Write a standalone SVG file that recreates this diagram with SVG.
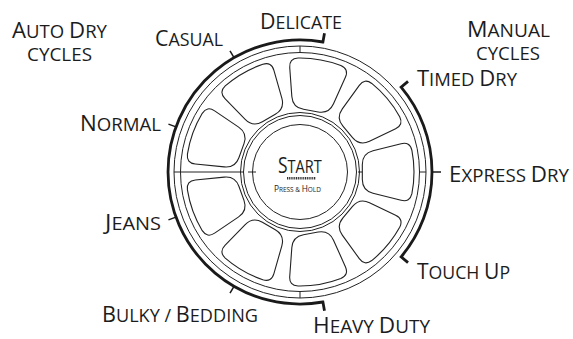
<svg xmlns="http://www.w3.org/2000/svg" width="573" height="339" viewBox="0 0 573 339">
<style>
.lbl{font-family:"Open Sans","Liberation Sans",sans-serif;fill:#1c1c1c}
.B{font-size:21.5px}
.s{font-size:18px}
.thin{fill:none;stroke:#222;stroke-width:1}
.pad{fill:#fff;stroke:#222;stroke-width:1.1}
.br{fill:none;stroke:#1a1a1a;stroke-width:2.8}
.tk{fill:none;stroke:#1a1a1a;stroke-width:1.5}
</style>
<defs>
<path id="padshape" d="M101.12,-28.26 Q109.85,-30.47 111.91,-21.71 A114 114 0 0 1 111.91,21.71 Q109.85,30.47 101.12,28.26 L72.99,21.16 Q62.32,18.46 62.32,7.46 L62.32,-7.46 Q62.32,-18.46 72.99,-21.16 Z"/>
</defs>
<rect width="573" height="339" fill="#fff"/>

<g id="dial">
<circle class="thin" cx="300" cy="172" r="126"/>
<circle class="thin" cx="300" cy="172" r="119.5"/>
<line class="thin" x1="300" y1="46" x2="300" y2="52.5"/>
<line class="thin" x1="300" y1="291.5" x2="300" y2="298"/>
<line class="thin" x1="419.5" y1="172" x2="426" y2="172"/>
<line class="thin" x1="174" y1="172" x2="243.5" y2="172"/>
<circle class="thin" cx="300" cy="172" r="59.5"/>
<circle class="thin" cx="300" cy="172" r="56.5"/>
<line class="thin" x1="248" y1="172" x2="256" y2="172"/>
<line class="thin" x1="358" y1="172" x2="367" y2="172"/>
</g>

<g id="pad-express-dry"><use href="#padshape" class="pad" transform="translate(300 172) rotate(0)"/></g>
<g id="pad-touch-up"><use href="#padshape" class="pad" transform="translate(300 172) rotate(40)"/></g>
<g id="pad-heavy-duty"><use href="#padshape" class="pad" transform="translate(300 172) rotate(80)"/></g>
<g id="pad-bulky-bedding"><use href="#padshape" class="pad" transform="translate(300 172) rotate(120)"/></g>
<g id="pad-jeans"><use href="#padshape" class="pad" transform="translate(300 172) rotate(160)"/></g>
<g id="pad-normal"><use href="#padshape" class="pad" transform="translate(300 172) rotate(200)"/></g>
<g id="pad-casual"><use href="#padshape" class="pad" transform="translate(300 172) rotate(240)"/></g>
<g id="pad-delicate"><use href="#padshape" class="pad" transform="translate(300 172) rotate(280)"/></g>
<g id="pad-timed-dry"><use href="#padshape" class="pad" transform="translate(300 172) rotate(320)"/></g>

<g id="start-button">
<circle class="thin" cx="300" cy="172" r="47.5"/>
<text class="lbl" transform="translate(278 172.7) scale(0.83 1)"><tspan font-size="21">S</tspan><tspan font-size="17.5">TART</tspan></text>
<line x1="287" y1="178.2" x2="316" y2="178.2" stroke="#333" stroke-width="2.4" stroke-dasharray="1.1 0.7"/>
<text class="lbl" transform="translate(274 191.7) scale(0.875 1)"><tspan font-size="9.5">P</tspan><tspan font-size="7.4">RESS &amp; </tspan><tspan font-size="9.5">H</tspan><tspan font-size="7.4">OLD</tspan></text>
</g>

<g id="connectors">
<path class="br" d="M324.48,33.14 L322.92,42 A132 132 0 1 0 322.92,302 L324.48,310.86"/>
<path class="br" d="M408.01,81.37 L401.12,87.15 A132 132 0 0 1 401.12,256.85 L408.01,262.63"/>
<line class="tk" x1="432" y1="172" x2="441" y2="172"/>
<line class="tk" x1="234" y1="286.32" x2="230" y2="293.24"/>
<line class="tk" x1="175.96" y1="217.15" x2="168.44" y2="219.88"/>
<line class="tk" x1="175.96" y1="126.85" x2="168.44" y2="124.12"/>
<line class="tk" x1="234" y1="57.68" x2="230" y2="50.76"/>
</g>

<g id="label-auto-dry"><text class="lbl" x="12" y="37.5" textLength="95" lengthAdjust="spacingAndGlyphs"><tspan class="B">A</tspan><tspan class="s">UTO </tspan><tspan class="B">D</tspan><tspan class="s">RY</tspan></text>
<text class="lbl s" x="27" y="60.5" textLength="65" lengthAdjust="spacingAndGlyphs">CYCLES</text></g>
<g id="label-manual"><text class="lbl" x="467" y="37" textLength="83" lengthAdjust="spacingAndGlyphs"><tspan class="B">M</tspan><tspan class="s">ANUAL</tspan></text>
<text class="lbl s" x="476" y="59.5" textLength="64" lengthAdjust="spacingAndGlyphs">CYCLES</text></g>
<g id="label-casual"><text class="lbl" x="155" y="46" textLength="68" lengthAdjust="spacingAndGlyphs"><tspan class="B">C</tspan><tspan class="s">ASUAL</tspan></text></g>
<g id="label-delicate"><text class="lbl" x="260" y="29" textLength="82" lengthAdjust="spacingAndGlyphs"><tspan class="B">D</tspan><tspan class="s">ELICATE</tspan></text></g>
<g id="label-timed-dry"><text class="lbl" x="417" y="86" textLength="100" lengthAdjust="spacingAndGlyphs"><tspan class="B">T</tspan><tspan class="s">IMED </tspan><tspan class="B">D</tspan><tspan class="s">RY</tspan></text></g>
<g id="label-express-dry"><text class="lbl" x="449" y="182" textLength="120" lengthAdjust="spacingAndGlyphs"><tspan class="B">E</tspan><tspan class="s">XPRESS </tspan><tspan class="B">D</tspan><tspan class="s">RY</tspan></text></g>
<g id="label-touch-up"><text class="lbl" x="417" y="279" textLength="93" lengthAdjust="spacingAndGlyphs"><tspan class="B">T</tspan><tspan class="s">OUCH </tspan><tspan class="B">U</tspan><tspan class="s">P</tspan></text></g>
<g id="label-heavy-duty"><text class="lbl" x="313" y="333" textLength="117" lengthAdjust="spacingAndGlyphs"><tspan class="B">H</tspan><tspan class="s">EAVY </tspan><tspan class="B">D</tspan><tspan class="s">UTY</tspan></text></g>
<g id="label-bulky-bedding"><text class="lbl" x="102" y="322" textLength="156" lengthAdjust="spacingAndGlyphs"><tspan class="B">B</tspan><tspan class="s">ULKY / </tspan><tspan class="B">B</tspan><tspan class="s">EDDING</tspan></text></g>
<g id="label-jeans"><text class="lbl" x="105" y="230" textLength="56" lengthAdjust="spacingAndGlyphs"><tspan class="B">J</tspan><tspan class="s">EANS</tspan></text></g>
<g id="label-normal"><text class="lbl" x="80" y="131" textLength="81" lengthAdjust="spacingAndGlyphs"><tspan class="B">N</tspan><tspan class="s">ORMAL</tspan></text></g>
</svg>
